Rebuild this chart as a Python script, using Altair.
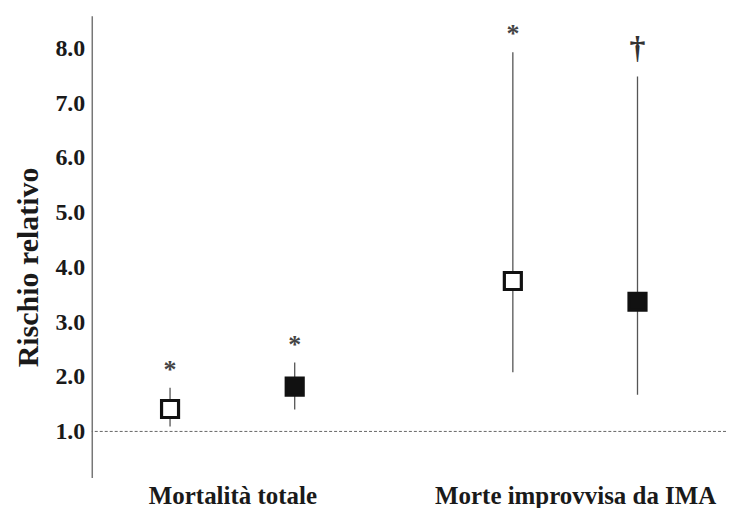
import altair as alt
import pandas as pd

# ---- data ----
groups = ["Mortalità totale", "Mortalità totale", "Morte improvvisa da IMA", "Morte improvvisa da IMA"]
group_index = [0, 0, 1, 1]
series = ["aperto", "pieno", "aperto", "pieno"]
series_index = [0, 1, 0, 1]
rr = [1.41, 1.82, 3.75, 3.37]
ci_low = [1.09, 1.40, 2.08, 1.67]
ci_high = [1.80, 2.26, 7.93, 7.49]
marks = ["*", "*", "*", "†"]
ref_value = [1.0]
y_ticks = [1, 2, 3, 4, 5, 6, 7, 8]
group_labels = ["Mortalità totale", "Morte improvvisa da IMA"]

df = pd.DataFrame({
    "gruppo": groups,
    "gi": group_index,
    "serie": series,
    "si": series_index,
    "rr": rr,
    "lo": ci_low,
    "hi": ci_high,
    "sig": marks,
})
ref = pd.DataFrame({"v": ref_value})

FONT = "Liberation Serif"
GROUP_STEP = 2.75

label_expr = (
    "datum.value < 1 ? '" + group_labels[0] + "' : '" + group_labels[1] + "'"
)

x_enc = alt.X(
    "xpos:Q",
    scale=alt.Scale(domain=[-1.128, 3.96], nice=False, zero=False),
    axis=alt.Axis(
        values=[0, GROUP_STEP],
        labelExpr=label_expr,
        domain=False,
        ticks=False,
        grid=False,
        labelFont=FONT,
        labelFontWeight="bold",
        labelFontSize=25,
        labelColor="#1a1a1a",
        labelPadding=6,
        labelLimit=0,
        labelOverlap=False,
        title=None,
    ),
)
y_scale = alt.Scale(domain=[0.16, 8.6], nice=False, zero=False)
y_enc = alt.Y(
    "rr:Q",
    scale=y_scale,
    axis=alt.Axis(
        values=y_ticks,
        format=".1f",
        grid=False,
        ticks=False,
        domainColor="#777777",
        domainWidth=1.5,
        labelFont=FONT,
        labelFontWeight="bold",
        labelFontSize=24,
        labelColor="#1a1a1a",
        labelPadding=7,
        title="Rischio relativo",
        titleFont=FONT,
        titleFontWeight="bold",
        titleFontSize=30,
        titleColor="#1a1a1a",
        titleX=-63,
        titleY=252,
        titleBaseline="middle",
        titleAngle=270,
    ),
)

base = alt.Chart(df).transform_calculate(
    xpos=f"datum.gi * {GROUP_STEP} + datum.si - 0.5"
)

rules = base.mark_rule(color="#555555", strokeWidth=1.3).encode(
    x=x_enc,
    y=alt.Y("lo:Q", scale=y_scale),
    y2="hi:Q",
)

squares = base.mark_point(shape="square", size=290, strokeWidth=3.2, opacity=1).encode(
    x="xpos:Q",
    y=y_enc,
    fill=alt.Fill(
        "serie:N",
        scale=alt.Scale(domain=["aperto", "pieno"], range=["#ffffff", "#111111"]),
        legend=None,
    ),
    stroke=alt.value("#111111"),
)

stars = base.transform_filter("datum.sig == '*'").mark_text(
    font=FONT, fontSize=26, fontWeight="bold", baseline="middle", dy=-18, color="#444444"
).encode(
    x="xpos:Q",
    y=alt.Y("hi:Q", scale=y_scale),
    text="sig:N",
)

daggers = base.transform_filter("datum.sig != '*'").mark_text(
    font=FONT, fontSize=32, fontWeight="bold", baseline="middle", dy=-28, color="#333333"
).encode(
    x="xpos:Q",
    y=alt.Y("hi:Q", scale=y_scale),
    text="sig:N",
)

refline = alt.Chart(ref).mark_rule(color="#666666", strokeWidth=1, strokeDash=[3, 2]).encode(
    y=alt.Y("v:Q", scale=y_scale)
)

chart = alt.layer(refline, rules, squares, stars, daggers).properties(
    width=636,
    height=463,
    autosize=alt.AutoSizeParams(type="none"),
    padding={"left": 84, "top": 7, "right": 0, "bottom": 30},
).configure_view(stroke=None)

chart.save("out.html", embed_options={"renderer": "svg", "actions": False})
